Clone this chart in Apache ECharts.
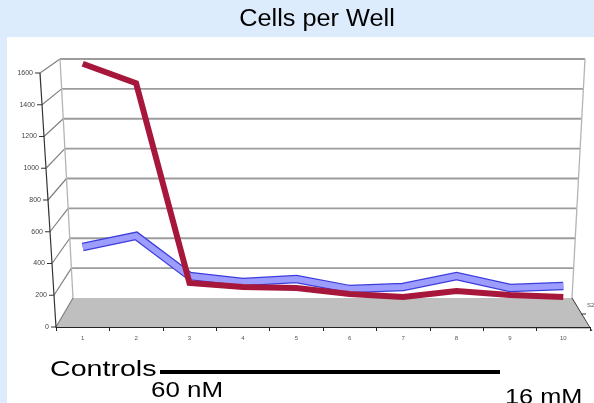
<!DOCTYPE html>
<html><head><meta charset="utf-8">
<script src="https://cdn.jsdelivr.net/npm/echarts/dist/echarts.min.js"></script>
<style>html,body{margin:0;padding:0;background:#dcecfc;overflow:hidden}#c{width:594px;height:403px}</style>
</head><body><div id="c"></div>
<script>
// ---- data ----
const categories = ['1','2','3','4','5','6','7','8','9','10'];
const seriesFront = [1640,1515,237,211,205,166,147,186,160,147];   // dark red (front row)
const seriesBack  = [382,455,191,152,171,105,119,191,112,125];     // blue ribbon (back row)
const yTicks = [0,200,400,600,800,1000,1200,1400,1600];
const titleText = 'Cells per Well';
const depthLabel = 'S2';
const noteControls = 'Controls';
const noteLow = '60 nM';
const noteHigh = '16 mM';

const FONT = 'Arial, "Liberation Sans", sans-serif';
const chart = echarts.init(document.getElementById('c'), null, {renderer:'canvas'});

const rich = {};
yTicks.forEach(v => { rich['p'+v] = {padding:[0, v/100, 0, 0], fontSize:7, color:'#444', fontFamily:FONT}; });

const hiddenX = (gi) => ({gridIndex:gi, type:'category', data:categories, show:false, boundaryGap:true});
const hiddenY = (gi) => ({gridIndex:gi, type:'value', min:0, max:1600, interval:200, show:false, splitLine:{show:false}});

chart.setOption({
  animation:false,
  backgroundColor:'transparent',
  grid:[
    {left:56, top:73, width:534, height:254},   // front axes
    {left:73, top:59, width:499, height:239},   // back wall
    {left:56, top:62, width:534, height:243},   // back row series
    {left:56, top:70, width:534, height:250}    // front row series
  ],
  xAxis:[
    {gridIndex:0, type:'category', data:categories, boundaryGap:true,
     axisLine:{lineStyle:{color:'#222', width:1.2}},
     axisTick:{show:true, length:4, lineStyle:{color:'#222'}},
     axisLabel:{fontSize:6, color:'#555', margin:8, fontFamily:FONT}},
    hiddenX(1), hiddenX(2), hiddenX(3)
  ],
  yAxis:[
    {gridIndex:0, type:'value', min:0, max:1600, interval:200,
     axisLine:{show:false}, axisTick:{show:false}, splitLine:{show:false},
     axisLabel:{margin:7, formatter: v => '{p'+v+'|'+v+'}', rich:rich}},
    hiddenY(1), hiddenY(2), hiddenY(3)
  ],
  series:[
    {type:'line', xAxisIndex:2, yAxisIndex:2, data:seriesBack, symbol:'none', clip:false, z:3,
     lineStyle:{color:'#3c3cdc', width:8.5, join:'miter'}},
    {type:'line', xAxisIndex:2, yAxisIndex:2, data:seriesBack, symbol:'none', clip:false, z:4,
     lineStyle:{color:'#9d9dff', width:6, join:'miter'}},
    {type:'line', xAxisIndex:3, yAxisIndex:3, data:seriesFront, symbol:'none', clip:false, z:5,
     lineStyle:{color:'#a6173b', width:6, join:'miter'}}
  ]
});

// ---- 3D-look decorations built from the axes' pixel mapping ----
const px = (gi, v) => chart.convertToPixel({yAxisIndex:gi}, v);
const yB0 = px(1,0), yBTop = px(1,1600);
const yF0 = px(0,0), yFTop = px(0,1600);
const backL = t => 73 + (60-73)*t, backR = t => 572 + (585-572)*t;
const frontX = t => 56 + (40-56)*t;
const g = [];
g.push({type:'rect', shape:{x:7,y:37,width:594,height:380}, style:{fill:'#ffffff'}, z:-10});
g.push({type:'polygon', shape:{points:[[backL(0),yB0],[backR(0),yB0],[590,yF0+2],[56,yF0]]}, style:{fill:'#bfbfbf'}, z:-5});
yTicks.forEach(v => {
  const t = v/1600, yb = px(1,v), yf = px(0,v), xf = frontX(t);
  if (v>0) g.push({type:'line', shape:{x1:backL(t),y1:yb,x2:backR(t),y2:yb}, style:{stroke:'#9c9c9c', lineWidth:1.8}, z:-4});
  g.push({type:'line', shape:{x1:xf,y1:yf,x2:backL(t),y2:yb}, style:{stroke:'#808080', lineWidth:1.2}, z:-4});
  g.push({type:'line', shape:{x1:xf-5,y1:yf,x2:xf,y2:yf}, style:{stroke:'#333', lineWidth:1}, z:-3});
});
g.push({type:'line', shape:{x1:backL(0),y1:yB0,x2:backL(1),y2:yBTop}, style:{stroke:'#b4b4b4', lineWidth:1.3}, z:-4});
g.push({type:'line', shape:{x1:backR(0),y1:yB0,x2:backR(1),y2:yBTop}, style:{stroke:'#b4b4b4', lineWidth:1.3}, z:-4});
g.push({type:'line', shape:{x1:frontX(0),y1:yF0,x2:frontX(1),y2:yFTop}, style:{stroke:'#333', lineWidth:1.2}, z:-3});
g.push({type:'line', shape:{x1:backR(0),y1:yB0,x2:592,y2:yF0+4}, style:{stroke:'#333', lineWidth:1}, z:-3});
g.push({type:'line', shape:{x1:581,y1:314,x2:586,y2:314}, style:{stroke:'#333', lineWidth:1}, z:-3});
g.push({type:'text', x:587, y:305, style:{text:depthLabel, fontSize:6, fill:'#555', fontFamily:FONT, textVerticalAlign:'middle'}});
g.push({type:'text', x:317, y:20, scaleX:1.1, style:{text:titleText, fontSize:23, fill:'#000', fontFamily:FONT, textAlign:'center', textVerticalAlign:'middle'}});
g.push({type:'text', x:50, y:370, scaleX:1.3, style:{text:noteControls, fontSize:22, fill:'#000', fontFamily:FONT, textAlign:'left', textVerticalAlign:'middle'}});
g.push({type:'line', shape:{x1:160,y1:372,x2:500,y2:372}, style:{stroke:'#000', lineWidth:4}});
g.push({type:'text', x:151, y:391, scaleX:1.18, style:{text:noteLow, fontSize:22, fill:'#000', fontFamily:FONT, textAlign:'left', textVerticalAlign:'middle'}});
g.push({type:'text', x:505, y:398, scaleX:1.15, style:{text:noteHigh, fontSize:22, fill:'#000', fontFamily:FONT, textAlign:'left', textVerticalAlign:'middle'}});
chart.setOption({graphic:{elements:g}});
</script></body></html>
